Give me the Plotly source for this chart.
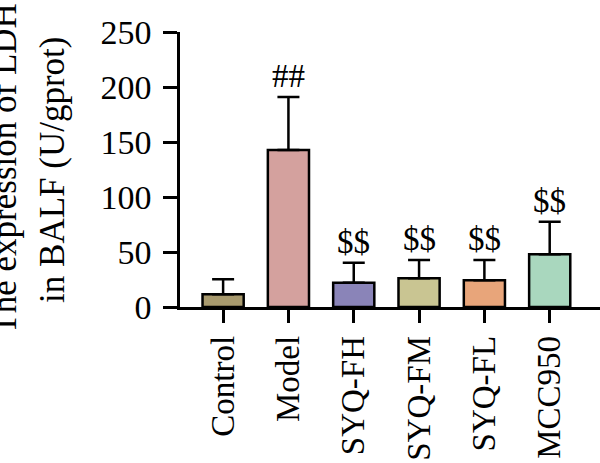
import plotly.graph_objects as go

categories = ["Control", "Model", "SYQ-FH", "SYQ-FM", "SYQ-FL", "MCC950"]
means = [11.5, 142.7, 22.1, 26.1, 24.3, 47.9]
errors_up = [13.7, 48.3, 18.2, 16.6, 18.4, 29.6]
labels = ["", "##", "$$", "$$", "$$", "$$"]
colors = ["#A89A6E", "#D4A19E", "#8A84B8", "#C9C592", "#E8A57A", "#A9D7BE"]
y_ticks = [0, 50, 100, 150, 200, 250]

FONT = "Liberation Serif"

fig = go.Figure()
fig.add_trace(go.Bar(
    x=categories, y=means, width=0.63,
    marker=dict(color=colors, line=dict(color="black", width=2.5)),
    error_y=dict(type="data", symmetric=False, array=errors_up,
                 arrayminus=[0] * len(means), color="black",
                 thickness=2.5, width=11),
    showlegend=False,
))

for c, m, e, t in zip(categories, means, errors_up, labels):
    if t:
        fig.add_annotation(x=c, y=m + e, text=t, showarrow=False,
                           yanchor="bottom", yshift=1,
                           font=dict(family=FONT, size=33, color="black"))

# two-line y-axis title as rotated annotations
fig.add_annotation(xref="paper", yref="paper", x=-0.47, y=0.5,
                   xanchor="left", text="The expression of LDH",
                   textangle=-90, showarrow=False,
                   font=dict(family=FONT, size=35, color="black"))
fig.add_annotation(xref="paper", yref="paper", x=-0.355, y=0.5,
                   xanchor="left", text="in BALF (U/gprot)",
                   textangle=-90, showarrow=False,
                   font=dict(family=FONT, size=35, color="black"))

fig.update_layout(
    width=600, height=463,
    margin=dict(l=180, r=0, t=32, b=156),
    paper_bgcolor="white", plot_bgcolor="white",
    font=dict(family=FONT, color="black"),
    xaxis=dict(range=[-0.66, 5.77], showline=True, linecolor="black",
               linewidth=2.5, ticks="outside", ticklen=13, tickwidth=2.5,
               tickcolor="black", tickangle=-90, automargin=False,
               tickfont=dict(family=FONT, size=33, color="black"),
               showgrid=False, zeroline=False),
    yaxis=dict(range=[0, 250], tickvals=y_ticks, showline=True,
               linecolor="black", linewidth=2.5, ticks="outside",
               ticklen=14, tickwidth=2.5, tickcolor="black", automargin=False,
               ticklabelstandoff=5,
               tickfont=dict(family=FONT, size=34, color="black"),
               showgrid=False, zeroline=False),
)

fig.write_html("out.html")
